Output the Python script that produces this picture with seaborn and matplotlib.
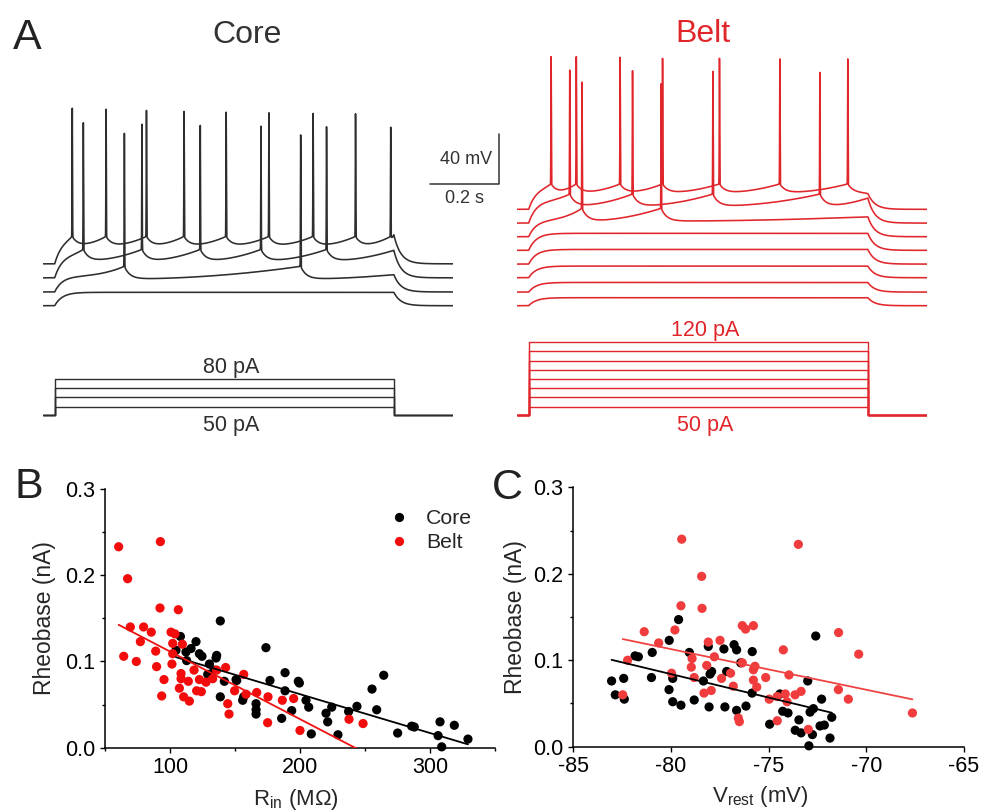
import numpy as np
import pandas as pd
import seaborn as sns
import matplotlib.pyplot as plt
from matplotlib.ticker import MultipleLocator, FormatStrFormatter

W, H = 983, 811

# ---------------- panel A: values ----------------
STEP_ON, STEP_OFF, T_END = 0.033, 1.016, 1.188   # s
TAU_C, TAU_A, TAU_D, SIG = 0.022, 0.016, 0.02, 0.0006

# core cell, 4 sweeps (top sweep first); mV relative to each sweep's baseline
core_base = [33.5, 22.3, 11.0, 0.0]
core_plateau = [21.0, 19.0, 12.5, 10.7]
core_thr = [21.9, 22.7, 20.5, None]
core_trough = [14.4, 13.6, 10.4, None]
core_late = [19.0, 22.0, 13.9, None]
core_spikes = [[0.084, 0.182, 0.299, 0.408, 0.530, 0.654, 0.782, 0.905, 1.007],
               [0.116, 0.286, 0.455, 0.631, 0.821],
               [0.235, 0.746],
               []]
core_peaks = [[124.5, 123.7, 122.7, 121.9, 121.3, 120.8, 120.3, 120.0, 109.3],
              [124.0, 122.9, 121.9, 121.3, 120.8],
              [126.9, 125.6],
              []]
core_steps = [50, 60, 70, 80]  # pA

# belt cell, 8 sweeps
belt_base = [77.1, 66.1, 55.2, 44.3, 33.3, 22.4, 10.9, 0.0]
belt_plateau = [18.0, 18.0, 13.3, 13.6, 11.7, 9.3, 7.7, 6.4]
belt_thr = [20.3, 23.2, 22.7, None, None, None, None, None]
belt_trough = [13.3, 13.6, 12.5, None, None, None, None, None]
belt_late = [12.5, 20.0, 16.0, None, None, None, None, None]
belt_spikes = [[0.098, 0.171, 0.298, 0.421, 0.586, 0.761, 0.958],
               [0.152, 0.334, 0.567, 0.877],
               [0.1875, 0.417],
               [], [], [], [], []]
belt_peaks = [[122.1, 122.1, 121.6, 120.8, 120.8, 120.3, 120.3],
              [122.4, 121.9, 121.3, 120.5],
              [123.7, 122.4],
              [], [], [], [], []]
belt_steps = [50, 60, 70, 80, 90, 100, 110, 120]  # pA
HOLD = 41  # drawn holding level of the step schematic

# ---------------- panel B: rheobase vs input resistance ----------------
b_core_rin = [138.7, 173.8, 264.4, 255.4, 259.0, 188.5, 198.7, 199.5, 176.9, 188.5,
              193.6, 185.9, 204.6, 206.7, 208.7, 220.0, 224.4, 221.3, 229.2, 237.4,
              243.8, 275.1, 285.9, 287.9, 307.7, 306.2, 309.0, 318.7, 329.2, 108.0,
              104.6, 112.3, 120.0, 116.2, 122.6, 124.6, 112.8, 130.3, 135.9, 135.4,
              129.0, 141.8, 138.7, 151.3, 150.8, 155.9, 156.7, 166.2, 166.2, 166.2, 133.8]
b_core_rheo = [0.147, 0.116, 0.084, 0.068, 0.044, 0.087, 0.077, 0.075, 0.078, 0.066,
               0.043, 0.034, 0.055, 0.047, 0.016, 0.040, 0.047, 0.030, 0.015, 0.042,
               0.048, 0.017, 0.025, 0.024, 0.030, 0.014, 0.001, 0.026, 0.010, 0.129,
               0.113, 0.111, 0.123, 0.115, 0.109, 0.106, 0.101, 0.097, 0.107, 0.104,
               0.085, 0.077, 0.059, 0.078, 0.079, 0.055, 0.059, 0.051, 0.044, 0.039, 0.090]
b_belt_rin = [60.5, 92.6, 67.4, 92.3, 106.4, 69.5, 79.7, 85.6, 77.2, 89.0,
              64.4, 74.1, 89.7, 95.4, 93.6, 100.8, 103.8, 102.1, 109.5, 102.1,
              101.5, 108.5, 108.5, 114.1, 107.2, 110.5, 114.9, 118.5, 122.6, 120.5,
              124.1, 127.7, 132.8, 135.9, 142.8, 156.7, 149.7, 158.5, 166.7, 144.4,
              145.4, 175.4, 175.1, 186.4, 195.1, 200.0, 237.7, 248.5]
b_belt_rheo = [0.233, 0.239, 0.196, 0.162, 0.160, 0.140, 0.140, 0.134, 0.123, 0.112,
               0.106, 0.100, 0.094, 0.079, 0.060, 0.134, 0.132, 0.121, 0.120, 0.109,
               0.097, 0.086, 0.080, 0.077, 0.069, 0.059, 0.054, 0.090, 0.079, 0.066,
               0.065, 0.076, 0.080, 0.090, 0.093, 0.085, 0.066, 0.062, 0.064, 0.051,
               0.039, 0.059, 0.029, 0.055, 0.057, 0.020, 0.033, 0.028]

# ---------------- panel C: rheobase vs resting potential ----------------
c_core_vrest = [-79.61, -80.09, -80.96, -81.84, -81.67, -83.04, -82.85, -82.42, -82.39, -81.0,
                -80.1, -79.91, -79.49, -79.91, -79.06, -78.81, -78.09, -78.05, -78.34, -77.92,
                -78.0, -77.29, -77.24, -76.77, -76.64, -77.15, -76.64, -76.43, -76.16, -75.84,
                -75.85, -74.95, -74.42, -74.28, -74.01, -73.45, -73.64, -73.34, -73.0, -72.94,
                -72.88, -72.71, -72.76, -72.59, -72.37, -72.29, -72.15, -71.77, -71.86]
c_core_rheo = [0.147, 0.123, 0.109, 0.105, 0.104, 0.076, 0.060, 0.079, 0.055, 0.080,
               0.066, 0.052, 0.048, 0.079, 0.109, 0.054, 0.116, 0.046, 0.076, 0.087,
               0.084, 0.113, 0.046, 0.118, 0.112, 0.087, 0.042, 0.097, 0.047, 0.110,
               0.062, 0.026, 0.061, 0.041, 0.039, 0.031, 0.019, 0.016, 0.076, 0.001,
               0.040, 0.044, 0.014, 0.128, 0.024, 0.055, 0.025, 0.034, 0.010]
c_belt_vrest = [-79.45, -73.48, -78.43, -79.49, -78.41, -81.37, -79.80, -80.63, -82.22, -82.47,
                -79.97, -78.92, -78.96, -78.81, -78.09, -78.17, -77.78, -77.49, -78.31, -77.94,
                -77.41, -76.95, -76.81, -76.55, -76.50, -76.35, -76.35, -76.18, -75.78, -75.70,
                -75.78, -75.61, -75.15, -74.97, -74.56, -74.56, -74.25, -74.15, -74.06, -73.96,
                -73.65, -73.34, -72.97, -71.42, -70.39, -71.43, -70.92, -67.64, -75.78]
c_belt_rheo = [0.240, 0.234, 0.197, 0.163, 0.160, 0.133, 0.135, 0.120, 0.100, 0.060,
               0.085, 0.102, 0.092, 0.080, 0.121, 0.094, 0.104, 0.123, 0.062, 0.065,
               0.079, 0.085, 0.070, 0.033, 0.029, 0.097, 0.140, 0.136, 0.140, 0.093,
               0.077, 0.069, 0.080, 0.055, 0.058, 0.030, 0.112, 0.061, 0.052, 0.083,
               0.060, 0.064, 0.020, 0.132, 0.107, 0.066, 0.055, 0.039, 0.089]

CORE_COL = "#2e2e2e"
BELT_COL = "#e0262b"

sns.set_theme(style="ticks")
plt.rcParams["font.family"] = ["Liberation Sans", "DejaVu Sans"]
plt.rcParams["mathtext.fontset"] = "custom"
plt.rcParams["mathtext.rm"] = "Liberation Sans"
plt.rcParams["axes.unicode_minus"] = False

fig = plt.figure(figsize=(W / 100, H / 100), dpi=100)


def px_axes(x0, y0, x1, y1):
    return fig.add_axes([x0 / W, 1 - y1 / H, (x1 - x0) / W, (y1 - y0) / H])


t = np.arange(0, T_END, 1e-4)


def make_trace(base, plateau, thr, trough, late, spikes, peaks):
    v = np.zeros_like(t)
    during = (t >= STEP_ON) & (t < STEP_OFF)
    charge = plateau * (1 - np.exp(-(t - STEP_ON) / TAU_C))
    if not spikes:
        v[during] = charge[during]
    else:
        s1 = spikes[0]
        seg = (t >= STEP_ON) & (t < s1)
        c1 = plateau * (1 - np.exp(-(s1 - STEP_ON) / TAU_C))
        u = (t[seg] - STEP_ON) / (s1 - STEP_ON)
        v[seg] = charge[seg] + (thr - c1) * u ** 3
        edges = list(spikes) + [STEP_OFF]
        for i, s in enumerate(spikes):
            nxt = edges[i + 1]
            seg = (t >= s) & (t < nxt)
            dt = t[seg] - s
            u = dt / (nxt - s)
            end = thr if i < len(spikes) - 1 else late
            v[seg] = trough + (thr - trough) * np.exp(-dt / TAU_A) + (end - trough) * u ** 2
    v_off = v[during][-1]
    post = t >= STEP_OFF
    v[post] = v_off * np.exp(-(t[post] - STEP_OFF) / TAU_D)
    for s, p in zip(spikes, peaks):
        v += (p - thr) * np.exp(-0.5 * ((t - s) / SIG) ** 2)
    return base + v


S_PX, MV_PX, PA_PX = 345.0, 1.25, 0.923


def trace_axes(x_left):
    ax = px_axes(x_left, 40, x_left + T_END * S_PX, 320)
    ax.set_xlim(0, T_END)
    ax.set_ylim((305.7 - 320) / MV_PX, (305.7 - 40) / MV_PX)
    ax.axis("off")
    return ax


def stim_axes(x_left):
    ax = px_axes(x_left, 310, x_left + T_END * S_PX, 440)
    ax.set_xlim(0, T_END)
    ax.set_ylim(50 - (440 - 406.7) / PA_PX, 50 + (406.7 - 310) / PA_PX)
    ax.axis("off")
    return ax


def draw_cell(x_left, color, base, plateau, thr, trough, late, spikes, peaks, steps):
    ax = trace_axes(x_left)
    for k in range(len(base)):
        v = make_trace(base[k], plateau[k], thr[k], trough[k], late[k], spikes[k], peaks[k])
        ax.plot(t, v, color=color, lw=1.15, solid_joinstyle="round")
    sx = stim_axes(x_left)
    for lv in steps:
        sx.plot([0, STEP_ON, STEP_ON, STEP_OFF, STEP_OFF, T_END],
                [HOLD, HOLD, lv, lv, HOLD, HOLD], color=color, lw=1.0)
    mid = 0.545
    sx.annotate(f"{steps[-1]} pA", (mid, steps[-1]), xytext=(0, 4.3), textcoords="offset points",
                ha="center", va="baseline", fontsize=15.5, color=color)
    sx.annotate(f"{steps[0]} pA", (mid, HOLD), xytext=(0, -11.4), textcoords="offset points",
                ha="center", va="baseline", fontsize=15.5, color=color)
    return ax


ax_core = draw_cell(43.3, CORE_COL, core_base, core_plateau, core_thr, core_trough,
                    core_late, core_spikes, core_peaks, core_steps)
draw_cell(517.3, BELT_COL, belt_base, belt_plateau, belt_thr, belt_trough,
          belt_late, belt_spikes, belt_peaks, belt_steps)

# scale bar: 0.2 s, 40 mV
sb_t, sb_v = 1.12, 97.4
ax_core.plot([sb_t, sb_t + 0.2, sb_t + 0.2], [sb_v, sb_v, sb_v + 40], color="#333333",
             lw=1.1, clip_on=False)
ax_core.text(sb_t + 0.18, sb_v + 16, "40 mV", ha="right", va="baseline", fontsize=13,
             color="#333333", clip_on=False)
ax_core.text(sb_t + 0.1, sb_v - 5, "0.2 s", ha="center", va="top", fontsize=13,
             color="#333333", clip_on=False)

fig.text(247.5 / W, 1 - 43 / H, "Core", ha="center", va="baseline", fontsize=23, color="#333333")
fig.text(702.5 / W, 1 - 42 / H, "Belt", ha="center", va="baseline", fontsize=23, color=BELT_COL)
fig.text(13 / W, 1 - 49 / H, "A", ha="left", va="baseline", fontsize=31, color="#222222")
fig.text(14 / W, 1 - 498 / H, "B", ha="left", va="baseline", fontsize=31, color="#222222")
fig.text(492 / W, 1 - 499 / H, "C", ha="left", va="baseline", fontsize=31, color="#222222")

# ---------------- scatter panels ----------------
dfB = pd.DataFrame({
    "x": b_core_rin + b_belt_rin,
    "y": b_core_rheo + b_belt_rheo,
    "region": ["Core"] * len(b_core_rin) + ["Belt"] * len(b_belt_rin),
})
dfC = pd.DataFrame({
    "x": c_core_vrest + c_belt_vrest,
    "y": c_core_rheo + c_belt_rheo,
    "region": ["Core"] * len(c_core_vrest) + ["Belt"] * len(c_belt_vrest),
})


def style_axes(ax):
    sns.despine(ax=ax)
    for sp in ("left", "bottom"):
        ax.spines[sp].set_linewidth(1.1)
        ax.spines[sp].set_color("black")
    ax.tick_params(which="major", direction="out", length=3.8, width=1.0, pad=3.2,
                   labelsize=15.5, colors="black")
    ax.tick_params(which="minor", direction="out", length=2.2, width=1.0, colors="black")
    ax.set_ylim(0, 0.3)
    ax.yaxis.set_major_locator(MultipleLocator(0.1))
    ax.yaxis.set_minor_locator(MultipleLocator(0.05))
    ax.yaxis.set_major_formatter(FormatStrFormatter("%.1f"))


axB = px_axes(105, 489, 495, 747.7)
sns.scatterplot(data=dfB, x="x", y="y", hue="region", hue_order=["Core", "Belt"],
                palette={"Core": "black", "Belt": "#f20c0c"}, s=44, linewidth=0,
                ax=axB, clip_on=False, zorder=3)
sns.regplot(data=dfB[dfB.region == "Core"], x="x", y="y", scatter=False, ci=None,
            ax=axB, line_kws={"color": "black", "lw": 1.3, "zorder": 4})
sns.regplot(data=dfB[dfB.region == "Belt"], x="x", y="y", scatter=False, ci=None,
            ax=axB, line_kws={"color": "#ee1111", "lw": 1.3, "zorder": 4})
style_axes(axB)
axB.set_xlim(50, 350)
axB.xaxis.set_major_locator(MultipleLocator(100))
axB.xaxis.set_minor_locator(MultipleLocator(50))
axB.set_xlabel(r"R$_{\mathrm{in}}$ (MΩ)", fontsize=16)
axB.set_ylabel("Rheobase (nA)", fontsize=16.5)
axB.xaxis.set_label_coords(0.49, -0.15)
axB.yaxis.set_label_coords(-0.125, 0.5)
h, l = axB.get_legend_handles_labels()
axB.legend(h, l, loc="upper left", bbox_to_anchor=(389.3 / W, 1 - 509.5 / H),
           bbox_transform=fig.transFigure, frameon=False, fontsize=15.3, handlelength=0.95,
           handletextpad=0.78, borderpad=0, borderaxespad=0, labelspacing=0.22)

axC = px_axes(573.3, 487.3, 964, 746.7)
sns.scatterplot(data=dfC, x="x", y="y", hue="region", hue_order=["Core", "Belt"],
                palette={"Core": "black", "Belt": "#f03c3c"}, s=44, linewidth=0,
                ax=axC, legend=False, clip_on=False, zorder=3)
sns.regplot(data=dfC[dfC.region == "Core"], x="x", y="y", scatter=False, ci=None,
            ax=axC, line_kws={"color": "black", "lw": 1.3, "zorder": 4})
sns.regplot(data=dfC[dfC.region == "Belt"], x="x", y="y", scatter=False, ci=None,
            ax=axC, line_kws={"color": "#f04444", "lw": 1.3, "zorder": 4})
style_axes(axC)
axC.set_xlim(-85, -65)
axC.xaxis.set_major_locator(MultipleLocator(5))
axC.set_xlabel(r"V$_{\mathrm{rest}}$ (mV)", fontsize=16)
axC.set_ylabel("Rheobase (nA)", fontsize=16.5)
axC.xaxis.set_label_coords(0.479, -0.145)
axC.yaxis.set_label_coords(-0.118, 0.5)

fig.savefig("out.png", dpi=100)
